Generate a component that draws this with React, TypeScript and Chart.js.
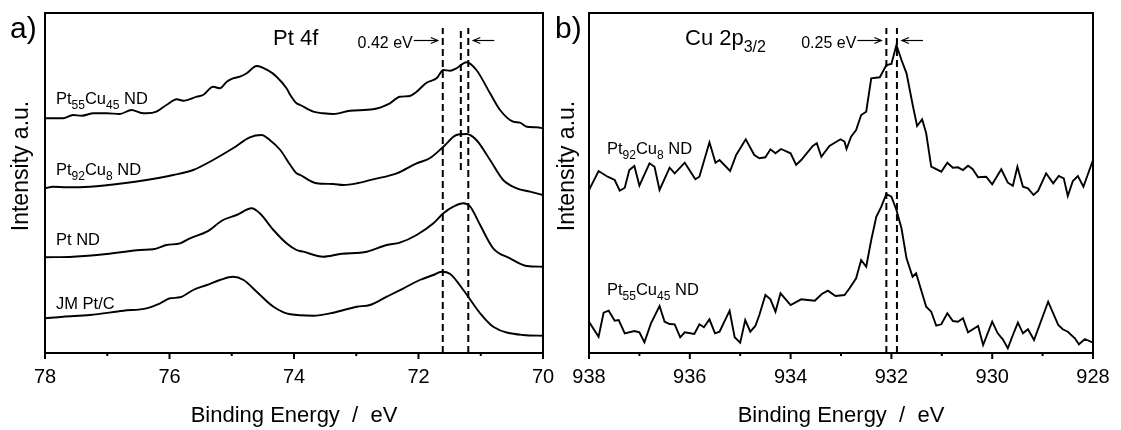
import React, { useEffect, useRef } from "react";
import { Chart, registerables } from "chart.js";

Chart.register(...registerables);

const FONT = "'Liberation Sans', Arial, Helvetica, sans-serif";
Chart.defaults.font.family = FONT;
Chart.defaults.color = "#000";

// ---------- Panel a: Pt 4f ----------
const aTicksMajor = [70, 72, 74, 76, 78];
const aTicksMinor = [71, 73, 75, 77];

const aPt55Cu45E = [78.0, 77.71, 77.55, 77.41, 77.22, 77.01, 76.8, 76.61, 76.47, 76.37, 76.21, 76.05, 75.88, 75.78, 75.56, 75.46, 75.3, 75.19, 75.08, 74.98, 74.87, 74.76, 74.6, 74.41, 74.28, 74.12, 74.06, 73.96, 73.9, 73.69, 73.53, 73.37, 73.1, 72.73, 72.46, 72.3, 72.14, 72.03, 71.87, 71.71, 71.6, 71.49, 71.39, 71.23, 71.07, 70.85, 70.69, 70.48, 70.37, 70.26, 70.1, 70.0];
const aPt55Cu45I = [234.7, 234.7, 238, 237.3, 239.7, 239.7, 239, 243, 240.3, 239.7, 241.3, 248, 253.7, 252.3, 256.3, 258, 266.3, 264.7, 271.3, 274.7, 276.3, 279.7, 287, 282.3, 276.3, 264.7, 258, 249.7, 248, 241.3, 239.7, 239, 242.3, 243.7, 249.7, 256.3, 257, 261.3, 270.3, 274.7, 283, 282.3, 284.7, 290.7, 283, 259.7, 243, 231.3, 230.3, 226.3, 225.7, 224.7];

const aPt92Cu8E = [78.0, 77.87, 77.65, 77.28, 76.74, 76.37, 75.94, 75.62, 75.3, 74.98, 74.71, 74.52, 74.39, 74.22, 74.06, 73.96, 73.9, 73.64, 73.37, 73.21, 72.99, 72.73, 72.35, 72.03, 71.82, 71.6, 71.39, 71.23, 71.07, 70.85, 70.64, 70.42, 70.21, 70.0];
const aPt92Cu8I = [164.7, 166.3, 165.7, 166.3, 169.7, 173, 178, 183, 193, 204.7, 215.7, 218, 213, 203, 188, 179.7, 178, 169.7, 169, 168, 169.7, 173.7, 179.7, 189.7, 194.7, 206.3, 218, 219, 213, 193, 173, 164.7, 161.3, 158];

const aPtE = [78.0, 77.55, 77.01, 76.47, 76.26, 76.05, 75.83, 75.67, 75.4, 75.14, 74.92, 74.68, 74.55, 74.33, 74.12, 73.96, 73.85, 73.53, 73.26, 72.83, 72.51, 72.3, 72.03, 71.76, 71.6, 71.44, 71.28, 71.17, 71.01, 70.8, 70.53, 70.26, 70.0];
const aPtI = [95.7, 96.3, 99, 103, 103.7, 108, 109.7, 114.7, 121.3, 133, 138, 144.7, 139.7, 123, 109.7, 103, 101.3, 96.3, 99, 101.3, 108, 110.3, 118, 129.7, 139.7, 146.3, 149.7, 146.3, 128, 104.7, 94.7, 87, 86.3];

const aJME = [78.0, 77.71, 77.28, 76.74, 76.37, 76.15, 75.99, 75.83, 75.62, 75.4, 75.19, 74.98, 74.81, 74.6, 74.33, 74.06, 73.69, 73.37, 72.99, 72.78, 72.51, 72.24, 71.98, 71.76, 71.63, 71.49, 71.28, 71.01, 70.8, 70.32, 70.0];
const aJMI = [34.7, 36.3, 38, 42.3, 44.7, 49.7, 54.7, 55.7, 63, 68, 73, 76.3, 73, 61.3, 46.3, 38.7, 37.3, 40.3, 46.3, 48, 56.3, 64.7, 73, 78, 81.3, 79, 63, 39.7, 26.3, 18, 17.3];

// reference (dashed) lines: position, top, bottom
const aMarkE = [71.61, 71.32, 71.2];
const aMarkTop = [325, 325, 325];
const aMarkBottom = [0, 183, 0];

const aLabels: [string, boolean][][] = [
  [["Pt", false], ["55", true], ["Cu", false], ["45", true], [" ND", false]],
  [["Pt", false], ["92", true], ["Cu", false], ["8", true], [" ND", false]],
  [["Pt ND", false]],
  [["JM Pt/C", false]],
];

// ---------- Panel b: Cu 2p3/2 ----------
const bTicksMajor = [928, 930, 932, 934, 936, 938];
const bTicksMinor = [929, 931, 933, 935, 937];

const bPt92Cu8E = [938.0, 937.81, 937.63, 937.49, 937.39, 937.29, 937.2, 937.1, 937.0, 936.8, 936.7, 936.6, 936.4, 936.3, 936.1, 935.89, 935.81, 935.61, 935.49, 935.41, 935.2, 935.08, 934.89, 934.72, 934.62, 934.5, 934.4, 934.3, 934.19, 934.0, 933.89, 933.79, 933.56, 933.48, 933.39, 933.23, 933.01, 932.93, 932.89, 932.8, 932.7, 932.6, 932.5, 932.4, 932.23, 932.1, 932.0, 931.9, 931.8, 931.7, 931.57, 931.49, 931.39, 931.31, 931.21, 931.01, 930.89, 930.78, 930.68, 930.58, 930.48, 930.39, 930.28, 930.12, 930.0, 929.82, 929.69, 929.59, 929.5, 929.39, 929.29, 929.18, 929.09, 928.93, 928.79, 928.68, 928.58, 928.5, 928.4, 928.3, 928.19, 928.0];
const bPt92Cu8I = [163, 182, 176.3, 173, 162.3, 165.3, 183, 187, 167.3, 189.7, 186.3, 163, 185.3, 179.7, 190.3, 173.7, 176.3, 210.7, 190.3, 193, 182, 198, 213.7, 198, 194.7, 195.7, 203.7, 199.7, 204, 199.7, 188, 193, 207, 209.7, 196.3, 207, 213.7, 211.3, 204, 216.3, 223, 238, 241.3, 274.7, 275.7, 288, 289, 308, 293, 279.7, 246.3, 227, 233.7, 219.7, 186.3, 181.3, 190.3, 185.3, 185.7, 183, 187.3, 184, 175.7, 176.3, 168.7, 183.7, 170.3, 167.3, 186.3, 166.3, 164.7, 158, 162, 179.7, 169.7, 177, 174.7, 157, 172, 177, 166.3, 193];

const bPt55Cu45E = [938.0, 937.81, 937.71, 937.61, 937.49, 937.41, 937.29, 937.1, 937.0, 936.9, 936.77, 936.6, 936.5, 936.4, 936.3, 936.19, 936.1, 935.91, 935.81, 935.72, 935.61, 935.5, 935.41, 935.21, 935.11, 935.0, 934.9, 934.8, 934.7, 934.62, 934.5, 934.4, 934.3, 934.2, 934.0, 933.79, 933.66, 933.52, 933.38, 933.26, 933.11, 932.93, 932.83, 932.7, 932.6, 932.5, 932.4, 932.3, 932.2, 932.1, 932.0, 931.9, 931.8, 931.7, 931.58, 931.51, 931.41, 931.31, 931.21, 931.11, 931.01, 930.89, 930.78, 930.68, 930.58, 930.48, 930.28, 930.18, 930.0, 929.89, 929.79, 929.69, 929.59, 929.49, 929.39, 929.29, 929.17, 928.89, 928.69, 928.6, 928.5, 928.36, 928.28, 928.16, 928.0];
const bPt55Cu45I = [31.3, 16.3, 40.3, 42.3, 32.3, 33, 19.7, 22, 20.7, 10.7, 29.7, 47, 31.3, 29, 28.7, 15.7, 20.7, 19, 28.7, 25.7, 33.7, 19.7, 21.3, 42.3, 15.7, 10.3, 33, 21.3, 27, 38, 58, 53.7, 41.3, 59.7, 48, 53.7, 53, 52.3, 59, 62.3, 57, 58, 64.7, 74.7, 93, 86.3, 113, 136.3, 146.3, 159, 156.3, 143, 124.7, 94.7, 76.3, 79.7, 63, 46.3, 41.3, 27.3, 28.7, 39.7, 32, 31.3, 34.7, 20.7, 27, 8, 31.3, 19.7, 13.7, 4.7, 18, 30.3, 19.7, 23.7, 13, 51.3, 28, 23.7, 21.3, 14.7, 8.7, 14, 10.3];

const bMarkE = [932.1, 931.89];
const bMarkTop = [325, 325];
const bMarkBottom = [0, 0];

const bLabels: [string, boolean][][] = [
  [["Pt", false], ["92", true], ["Cu", false], ["8", true], [" ND", false]],
  [["Pt", false], ["55", true], ["Cu", false], ["45", true], [" ND", false]],
];

// ---------- helpers ----------
function zip(e: number[], v: number[]) {
  const n = Math.min(e.length, v.length);
  const out: { x: number; y: number }[] = [];
  for (let i = 0; i < n; i++) out.push({ x: e[i], y: v[i] });
  return out;
}

const f = (s: number) => `${s}px ${FONT}`;

function drawRich(ctx: CanvasRenderingContext2D, x: number, y: number, parts: [string, boolean][], size: number, subSize: number, subDy: number) {
  let cx = x;
  ctx.textAlign = "left";
  ctx.textBaseline = "alphabetic";
  for (const [t, sub] of parts) {
    ctx.font = f(sub ? subSize : size);
    ctx.fillText(t, cx, sub ? y + subDy : y);
    cx += ctx.measureText(t).width;
  }
}

function arrow(ctx: CanvasRenderingContext2D, x0: number, x1: number, y: number) {
  ctx.beginPath();
  ctx.moveTo(x0, y);
  ctx.lineTo(x1, y);
  ctx.stroke();
  const d = x1 > x0 ? -1 : 1;
  ctx.beginPath();
  ctx.moveTo(x1 + d * 7, y - 3);
  ctx.lineTo(x1, y);
  ctx.lineTo(x1 + d * 7, y + 3);
  ctx.stroke();
}

interface PanelSpec {
  min: number;
  max: number;
  padLeft: number;
  padRight: number;
  majors: number[];
  minor: number[];
  spectra: { e: number[]; v: number[]; smooth: boolean }[];
  markE: number[];
  markTop: number[];
  markBottom: number[];
  letter: string;
  letterX: number;
  yTitleX: number;
  labels: [string, boolean][][];
  labelDx: number;
  labelBaselines: number[];
  title: (ctx: CanvasRenderingContext2D, left: number) => void;
  shiftText: string;
}

function buildConfig(p: PanelSpec): any {
  const datasets: any[] = [];
  p.spectra.forEach((s) => {
    datasets.push({
      data: zip(s.e, s.v),
      borderColor: "#000",
      borderWidth: 1.9,
      pointRadius: 0,
      fill: false,
      cubicInterpolationMode: s.smooth ? "monotone" : "default",
      tension: 0,
    });
  });
  p.markE.forEach((e, i) => {
    datasets.push({
      data: [
        { x: e, y: p.markBottom[i] },
        { x: e, y: p.markTop[i] },
      ],
      borderColor: "#000",
      borderWidth: 2,
      borderDash: [7, 4],
      pointRadius: 0,
      fill: false,
    });
  });

  const overlay = {
    id: "overlay",
    afterDraw(chart: any) {
      const { ctx, chartArea: ca, scales } = chart;
      const xs = scales.x;
      ctx.save();
      ctx.fillStyle = "#000";
      ctx.strokeStyle = "#000";
      // frame
      ctx.lineWidth = 2;
      ctx.setLineDash([]);
      ctx.strokeRect(ca.left, ca.top, ca.right - ca.left, ca.bottom - ca.top);
      // ticks
      ctx.lineWidth = 2;
      p.majors.forEach((v) => {
        const x = xs.getPixelForValue(v);
        ctx.beginPath();
        ctx.moveTo(x, ca.bottom);
        ctx.lineTo(x, ca.bottom + 6);
        ctx.stroke();
      });
      p.minor.forEach((v) => {
        const x = xs.getPixelForValue(v);
        ctx.beginPath();
        ctx.moveTo(x, ca.bottom);
        ctx.lineTo(x, ca.bottom + 3);
        ctx.stroke();
      });
      // panel letter
      ctx.font = f(30);
      ctx.textAlign = "left";
      ctx.textBaseline = "alphabetic";
      ctx.fillText(p.letter, p.letterX, 38);
      // y title
      ctx.save();
      ctx.translate(p.yTitleX, 166);
      ctx.rotate(-Math.PI / 2);
      ctx.font = f(23);
      ctx.textAlign = "center";
      ctx.textBaseline = "middle";
      ctx.fillText("Intensity a.u.", 0, 0);
      ctx.restore();
      // title
      p.title(ctx, ca.left);
      // series labels
      p.labels.forEach((parts, i) => {
        drawRich(ctx, ca.left + p.labelDx, p.labelBaselines[i], parts, 16.5, 12, 5);
      });
      // shift annotation
      const xL = xs.getPixelForValue(p.markE[0]);
      const xR = xs.getPixelForValue(p.markE[p.markE.length - 1]);
      ctx.font = f(16);
      ctx.textAlign = "right";
      ctx.textBaseline = "alphabetic";
      ctx.fillText(p.shiftText, xL - 30, 48);
      ctx.lineWidth = 1.2;
      arrow(ctx, xL - 29, xL - 5, 40.5);
      arrow(ctx, xR + 26, xR + 5, 40.5);
      ctx.restore();
    },
  };

  return {
    type: "line",
    data: { datasets },
    options: {
      animation: false,
      responsive: false,
      maintainAspectRatio: false,
      events: [],
      layout: { padding: { top: 13, right: p.padRight, left: p.padLeft, bottom: 0 } },
      plugins: { legend: { display: false }, tooltip: { enabled: false }, title: { display: false } },
      scales: {
        x: {
          type: "linear",
          min: p.min,
          max: p.max,
          reverse: true,
          ticks: {
            stepSize: 2,
            color: "#000",
            font: { size: 20 },
            padding: 12,
            maxRotation: 0,
            autoSkip: false,
            callback: (v: any) => String(v),
          },
          grid: { display: false, drawTicks: false },
          border: { display: false },
          title: {
            display: true,
            text: "Binding Energy  /  eV",
            color: "#000",
            font: { size: 22 },
            padding: { top: 0, bottom: 1 },
          },
          afterFit: (s: any) => {
            s.height = 77;
            s.paddingLeft = 0;
            s.paddingRight = 0;
          },
        },
        y: {
          type: "linear",
          min: 0,
          max: 340,
          display: false,
        },
      },
    },
    plugins: [overlay],
  };
}

const panelA: PanelSpec = {
  min: 70,
  max: 78,
  padLeft: 45,
  padRight: 19,
  majors: aTicksMajor,
  minor: aTicksMinor,
  spectra: [
    { e: aPt55Cu45E, v: aPt55Cu45I, smooth: true },
    { e: aPt92Cu8E, v: aPt92Cu8I, smooth: true },
    { e: aPtE, v: aPtI, smooth: true },
    { e: aJME, v: aJMI, smooth: true },
  ],
  markE: aMarkE,
  markTop: aMarkTop,
  markBottom: aMarkBottom,
  letter: "a)",
  letterX: 10,
  yTitleX: 22,
  labels: aLabels,
  labelDx: 11,
  labelBaselines: [103.5, 175, 244.5, 308.5],
  title: (ctx, left) => {
    drawRich(ctx, left + 228, 45, [["Pt 4f", false]], 22, 16, 7);
  },
  shiftText: "0.42 eV",
};

const panelB: PanelSpec = {
  min: 928,
  max: 938,
  padLeft: 39,
  padRight: 28,
  majors: bTicksMajor,
  minor: bTicksMinor,
  spectra: [
    { e: bPt92Cu8E, v: bPt92Cu8I, smooth: false },
    { e: bPt55Cu45E, v: bPt55Cu45I, smooth: false },
  ],
  markE: bMarkE,
  markTop: bMarkTop,
  markBottom: bMarkBottom,
  letter: "b)",
  letterX: 5,
  yTitleX: 18,
  labels: bLabels,
  labelDx: 18,
  labelBaselines: [153.5, 295],
  title: (ctx, left) => {
    drawRich(ctx, left + 96, 45, [["Cu 2p", false], ["3/2", true]], 22, 16, 7);
  },
  shiftText: "0.25 eV",
};

export default function App() {
  const refA = useRef<HTMLCanvasElement>(null);
  const refB = useRef<HTMLCanvasElement>(null);
  useEffect(() => {
    const ca = new Chart(refA.current as HTMLCanvasElement, buildConfig(panelA));
    const cb = new Chart(refB.current as HTMLCanvasElement, buildConfig(panelB));
    return () => {
      ca.destroy();
      cb.destroy();
    };
  }, []);
  return (
    <div style={{ position: "absolute", left: 0, top: 0, width: 1121, height: 430, background: "#fff", overflow: "hidden" }}>
      <canvas ref={refA} width={562} height={430} style={{ position: "absolute", left: 0, top: 0, width: 562, height: 430 }} />
      <canvas ref={refB} width={571} height={430} style={{ position: "absolute", left: 550, top: 0, width: 571, height: 430 }} />
    </div>
  );
}
